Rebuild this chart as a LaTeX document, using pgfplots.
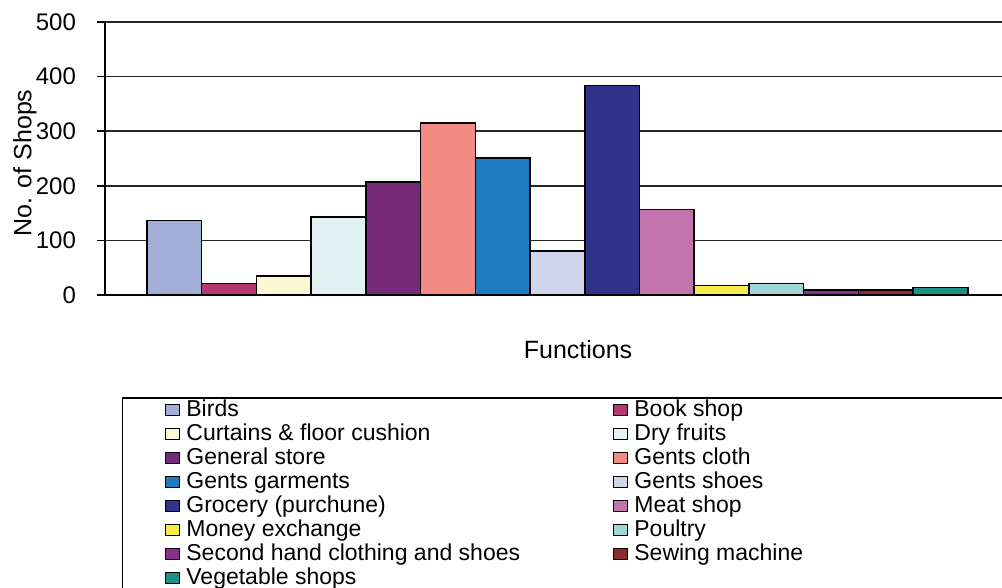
\documentclass[border=0pt]{standalone}
\usepackage{pgfplots}
\pgfplotsset{compat=1.18}
\usepackage{fontspec}
\setmainfont{Liberation Sans}

\definecolor{cBirds}{HTML}{A0AED8}
\definecolor{cBook}{HTML}{B5376F}
\definecolor{cCurtains}{HTML}{FAF7D2}
\definecolor{cDry}{HTML}{E2F2F2}
\definecolor{cGeneral}{HTML}{772A78}
\definecolor{cCloth}{HTML}{F38B85}
\definecolor{cGarments}{HTML}{1F7BC2}
\definecolor{cShoes}{HTML}{CFD5EA}
\definecolor{cGrocery}{HTML}{313388}
\definecolor{cMeat}{HTML}{C474AC}
\definecolor{cMoney}{HTML}{F5EB4A}
\definecolor{cPoultry}{HTML}{9ED8D6}
\definecolor{cSecond}{HTML}{8B2E8E}
\definecolor{cSewing}{HTML}{8E2B2B}
\definecolor{cVeg}{HTML}{1E9187}

% legend text cells: left column and right column
\newcommand{\lentry}[1]{\hspace{3pt}\makebox[213.5pt][l]{#1}}
\newcommand{\rentry}[1]{\hspace{3pt}\makebox[200pt][l]{#1}}

\pgfplotsset{
  shopbar/.style={
    fill=#1, draw=black, line width=0.75pt, bar shift=0pt,
    legend image code/.code={\draw[##1, line width=0.5pt] (0pt,-2.75pt) rectangle (7pt,2.75pt);}
  }
}

\begin{document}
\begin{tikzpicture}
\useasboundingbox (0,0) rectangle (501pt,294pt);
\clip (0,0) rectangle (501pt,294pt);
\begin{axis}[
  at={(52.5pt,146.5pt)}, anchor=south west,
  scale only axis, width=452.5pt, height=136.5pt,
  xmin=-1.267, xmax=15.27, ymin=0, ymax=500,
  ybar, bar width=1,
  axis x line=bottom, axis y line=left,
  axis line style={-, black, line width=0.75pt},
  xtick=\empty, ytick={0,100,200,300,400,500},
  ymajorgrids, major grid style={black!85, line width=0.75pt},
  tick align=outside, major tick length=4pt,
  tick style={black, line width=0.75pt},
  /pgf/number format/assume math mode=true,
  yticklabel style={font=\fontsize{12}{14}\selectfont, anchor=east, xshift=-7pt},
  xlabel={Functions},
  xlabel style={font=\fontsize{12.5}{14}\selectfont, at={(axis description cs:0.5227,-0.2015)}, anchor=center},
  ylabel={No. of Shops},
  ylabel style={font=\fontsize{12.5}{14}\selectfont, at={(axis description cs:-0.0884,0.4835)}, anchor=center},
  legend columns=2, legend cell align=left,
  legend style={
    at={(axis description cs:0.0663,-0.3762)}, anchor=north west,
    draw=none, fill=none, inner sep=0pt, row sep=0pt,
    font=\fontsize{11.5}{12}\selectfont,
    nodes={inner sep=0pt, text height=9.35pt, text depth=2.65pt},
    /tikz/every even column/.style={column sep=0pt},
    /tikz/every odd column/.style={column sep=0pt},
  },
]
\addplot[shopbar=cBirds]     coordinates {(0,136)};  \addlegendentry{\lentry{Birds}}
\addplot[shopbar=cBook]      coordinates {(1,21)};   \addlegendentry{\rentry{Book shop}}
\addplot[shopbar=cCurtains]  coordinates {(2,35)};   \addlegendentry{\lentry{Curtains \& floor cushion}}
\addplot[shopbar=cDry]       coordinates {(3,143)};  \addlegendentry{\rentry{Dry fruits}}
\addplot[shopbar=cGeneral]   coordinates {(4,207)};  \addlegendentry{\lentry{General store}}
\addplot[shopbar=cCloth]     coordinates {(5,315)};  \addlegendentry{\rentry{Gents cloth}}
\addplot[shopbar=cGarments]  coordinates {(6,251)};  \addlegendentry{\lentry{Gents garments}}
\addplot[shopbar=cShoes]     coordinates {(7,81)};   \addlegendentry{\rentry{Gents shoes}}
\addplot[shopbar=cGrocery]   coordinates {(8,384)};  \addlegendentry{\lentry{Grocery (purchune)}}
\addplot[shopbar=cMeat]      coordinates {(9,157)};  \addlegendentry{\rentry{Meat shop}}
\addplot[shopbar=cMoney]     coordinates {(10,17)};  \addlegendentry{\lentry{Money exchange}}
\addplot[shopbar=cPoultry]   coordinates {(11,21)};  \addlegendentry{\rentry{Poultry}}
\addplot[shopbar=cSecond]    coordinates {(12,9)};   \addlegendentry{\lentry{Second hand clothing and shoes}}
\addplot[shopbar=cSewing]    coordinates {(13,9)};   \addlegendentry{\rentry{Sewing machine}}
\addplot[shopbar=cVeg]       coordinates {(14,14)};  \addlegendentry{\lentry{Vegetable shops}}
\end{axis}
% legend frame, running past the right and bottom edges
\draw[black, line width=0.75pt] (61.35pt,-10pt) |- (520pt,95pt);
\end{tikzpicture}
\end{document}
